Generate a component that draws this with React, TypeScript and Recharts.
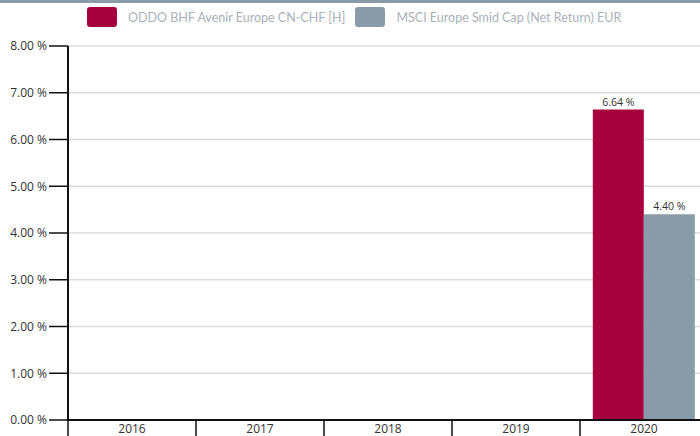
import { BarChart, Bar, XAxis, YAxis, CartesianGrid, LabelList } from 'recharts';

const years = ['2016', '2017', '2018', '2019', '2020'];
const fundValues = [null, null, null, null, 6.64];
const benchValues = [null, null, null, null, 4.4];
const yTicks = [0, 1, 2, 3, 4, 5, 6, 7, 8];
const seriesNames = ['ODDO BHF Avenir Europe CN-CHF [H]', 'MSCI Europe Smid Cap (Net Return) EUR'];
const seriesColors = ['#a6003d', '#8a9ba8'];

const data = years.map((y, i) => ({ year: y, fund: fundValues[i], bench: benchValues[i] }));

const pct = (v: number) => `${v.toFixed(2)} %`;

const YearTick = (props: any) => {
    const { x, y, payload } = props;
    const off = payload && payload.offset != null ? payload.offset : 64;
    return <g>
        <line x1={x - off} x2={x - off} y1={y} y2={y + 16} stroke="#111" strokeWidth={1.5} />
        <text x={x} y={y + 13} textAnchor="middle" fontSize={12} fill="#333" fontFamily="'Open Sans', sans-serif">{payload.value}</text>
    </g>
}

const ValueLabel = (props: any) => {
    const { x, y, width, value } = props;
    if (value == null) return null;
    return <text x={x + width / 2} y={y - 4} textAnchor="middle" fontSize={10.5} fill="#333" fontFamily="'Open Sans', sans-serif">{pct(value)}</text>
}

const App = () => {
    return <div style={{ position: 'absolute', top: 0, left: 0, width: 700, height: 436, overflow: 'hidden', background: '#fff' }}>
        <div style={{ position: 'absolute', top: 0, left: 0, width: 700, height: 3, background: '#8a9aa7' }} />
        <div style={{ position: 'absolute', top: 7, left: 87, display: 'flex', alignItems: 'center', fontFamily: "Lato, sans-serif", fontSize: 12.5, color: '#a9b2bb' }}>
            {seriesNames.map((n, i) => (
                <div key={n} style={{ display: 'flex', alignItems: 'center', marginRight: 10 }}>
                    <span style={{ width: 30, height: 20, borderRadius: 3, background: seriesColors[i], display: 'inline-block', marginRight: 11 }} />
                    <span>{n}</span>
                </div>
            ))}
        </div>
        <BarChart
            width={720}
            height={436}
            data={data}
            barCategoryGap="10%"
            barGap={0}
            margin={{ top: 46, right: 12, left: 0, bottom: 0 }}
        >
            <CartesianGrid vertical={false} stroke="#dcdcdc" strokeWidth={1.5} />
            <XAxis dataKey="year" height={16} tickSize={0} tickMargin={0} tickLine={false}
                axisLine={{ stroke: '#111', strokeWidth: 2 }} tick={<YearTick />} interval={0} />
            <YAxis width={68} domain={[0, 8]} ticks={yTicks} tickFormatter={pct} tickSize={19} tickMargin={2}
                axisLine={{ stroke: '#111', strokeWidth: 2 }} tickLine={{ stroke: '#111', strokeWidth: 1.5 }}
                tick={{ fontSize: 12, fill: '#333', fontFamily: "'Open Sans', sans-serif" }} />
            <Bar dataKey="fund" name={seriesNames[0]} fill={seriesColors[0]} isAnimationActive={false}>
                <LabelList dataKey="fund" content={<ValueLabel />} />
            </Bar>
            <Bar dataKey="bench" name={seriesNames[1]} fill={seriesColors[1]} isAnimationActive={false}>
                <LabelList dataKey="bench" content={<ValueLabel />} />
            </Bar>
        </BarChart>
    </div>
}

export default App
